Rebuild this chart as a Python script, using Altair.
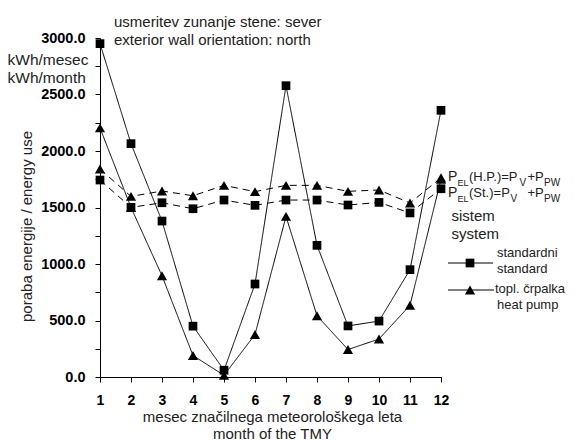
import altair as alt
import pandas as pd

# ---------------- data ----------------
months = list(range(1, 13))
standard_total = [2950, 2065, 1380, 450, 60, 823, 2578, 1165, 452, 495, 950, 2360]
heatpump_total = [2204, 1500, 896, 190, 15, 376, 1421, 542, 243, 336, 635, 1750]
standard_el = [1743, 1501, 1542, 1489, 1566, 1519, 1566, 1566, 1522, 1545, 1452, 1666]
heatpump_el = [1841, 1598, 1646, 1604, 1696, 1640, 1696, 1696, 1643, 1655, 1540, 1763]

series_names = ["standard_total", "heatpump_total", "standard_el", "heatpump_el"]
series_values = [standard_total, heatpump_total, standard_el, heatpump_el]
series_styles = ["solid", "solid", "dashed", "dashed"]
series_markers = ["square", "triangle", "square", "triangle"]

y_ticks = list(range(0, 3001, 250))

title_lines = ["usmeritev zunanje stene: sever", "exterior wall orientation: north"]
unit_lines = ["kWh/mesec", "kWh/month"]
y_title = "poraba energije / energy use"
x_title = ["mesec značilnega meteorološkega leta", "month of the TMY"]
system_lines = ["sistem", "system"]
legend_std = ["standardni", "standard"]
legend_hp = ["topl. črpalka", "heat pump"]

rows = []
for name, vals, sty, mk in zip(series_names, series_values, series_styles, series_markers):
    for m, v in zip(months, vals):
        rows.append({"month": m, "value": v, "series": name, "style": sty, "marker": mk})
df = pd.DataFrame(rows)

FONT = "Liberation Sans"
TXT = "#222"
PW, PH = 341, 339
OX, OY = 100, 38  # page position of the plot origin (for annotation placement)

x_enc = alt.X(
    "month:Q",
    scale=alt.Scale(domain=[1, 12], nice=False, zero=False),
    axis=alt.Axis(
        values=months, format="d", labelFlush=False, grid=False,
        labelFontSize=14, labelFontWeight="bold", labelColor="black", labelFont=FONT,
        tickSize=5, labelPadding=11,
        title=x_title, titleFont=FONT, titleFontSize=15, titleFontWeight="normal",
        titleColor=TXT, titleX=172, titleY=32.5, titleAlign="center",
        titleBaseline="top", titleLineHeight=16.5,
    ),
)
y_enc = alt.Y(
    "value:Q",
    scale=alt.Scale(domain=[0, 3000], nice=False, zero=True),
    axis=alt.Axis(
        values=y_ticks, grid=False,
        labelExpr="datum.value % 500 == 0 ? format(datum.value, '.1f') : ''",
        labelFontSize=14.5, labelFontWeight="bold", labelColor="black", labelFont=FONT,
        tickSize=5, labelPadding=10,
        title=y_title, titleFont=FONT, titleFontSize=15, titleFontWeight="normal",
        titleColor=TXT, titleX=-74, titleY=188, titleAngle=270,
        titleAlign="center", titleBaseline="middle",
    ),
)

base = alt.Chart(df).encode(x=x_enc, y=y_enc, detail="series:N")

lines = base.mark_line(color="black", strokeWidth=1).encode(
    strokeDash=alt.StrokeDash(
        "style:N",
        scale=alt.Scale(domain=["solid", "dashed"], range=[[1, 0], [7, 5]]),
        legend=None,
    )
)
points = base.mark_point(filled=True, color="black", opacity=1, strokeWidth=0).encode(
    shape=alt.Shape(
        "marker:N",
        scale=alt.Scale(domain=["square", "triangle"], range=["square", "triangle-up"]),
        legend=None,
    ),
    size=alt.Size(
        "marker:N",
        scale=alt.Scale(domain=["square", "triangle"], range=[76, 104]),
        legend=None,
    ),
)


def txt(s, px, py, size=15, align="left", weight="normal", color=TXT):
    return alt.Chart(pd.DataFrame({"t": [s]})).mark_text(
        align=align, baseline="alphabetic", font=FONT, fontSize=size,
        fontWeight=weight, color=color,
    ).encode(x=alt.value(px - OX), y=alt.value(py - OY), text="t:N")


one = pd.DataFrame({"k": [0]})


def rule(px1, px2, py):
    return alt.Chart(one).mark_rule(color="black", strokeWidth=1).encode(
        x=alt.value(px1 - OX), x2=alt.value(px2 - OX), y=alt.value(py - OY)
    )


def sym(px, py, shape, size):
    return alt.Chart(one).mark_point(filled=True, color="black", opacity=1, strokeWidth=0).encode(
        x=alt.value(px - OX), y=alt.value(py - OY), shape=alt.value(shape), size=alt.value(size)
    )


annots = [
    txt(title_lines[0], 114, 27),
    txt(title_lines[1], 114, 45),
    txt(unit_lines[0], 7.5, 65, size=15.5),
    txt(unit_lines[1], 7.5, 83, size=15.5),
    # P_EL(H.P.)=P_V +P_PW
    txt("P", 448, 180.5, size=14),
    txt("EL", 457.5, 185.5, size=9),
    txt("(H.P.)=P", 469, 180.5, size=13),
    txt("V", 519.5, 185.5, size=10),
    txt("+P", 527.5, 180.5, size=13),
    txt("PW", 544, 185.5, size=10),
    # P_EL(St.)=P_V +P_PW
    txt("P", 448, 196.5, size=14),
    txt("EL", 457.5, 201.5, size=9),
    txt("(St.)=P", 469, 196.5, size=13),
    txt("V", 510.5, 201.5, size=10),
    txt("+P", 527.5, 196.5, size=13),
    txt("PW", 544, 201.5, size=10),
    txt(system_lines[0], 451.5, 221),
    txt(system_lines[1], 451.5, 238.5),
    rule(448, 493, 263),
    sym(470, 263, "square", 76),
    txt(legend_std[0], 497, 257, size=13),
    txt(legend_std[1], 497, 273, size=13),
    rule(448, 494, 290),
    sym(470, 290, "triangle-up", 104),
    txt(legend_hp[0], 495, 292.5, size=13),
    txt(legend_hp[1], 497, 309, size=13),
]

chart = alt.layer(lines, points, *annots).properties(
    width=PW,
    height=PH,
    padding={"left": 92, "top": 30, "right": 126, "bottom": 64},
    autosize=alt.AutoSizeParams(type="none"),
    background="white",
).configure_view(stroke=None).configure_axis(
    domainColor="black", tickColor="black", domainWidth=1, tickWidth=1
)

chart.save("out.html", embed_options={"renderer": "svg", "actions": False})
